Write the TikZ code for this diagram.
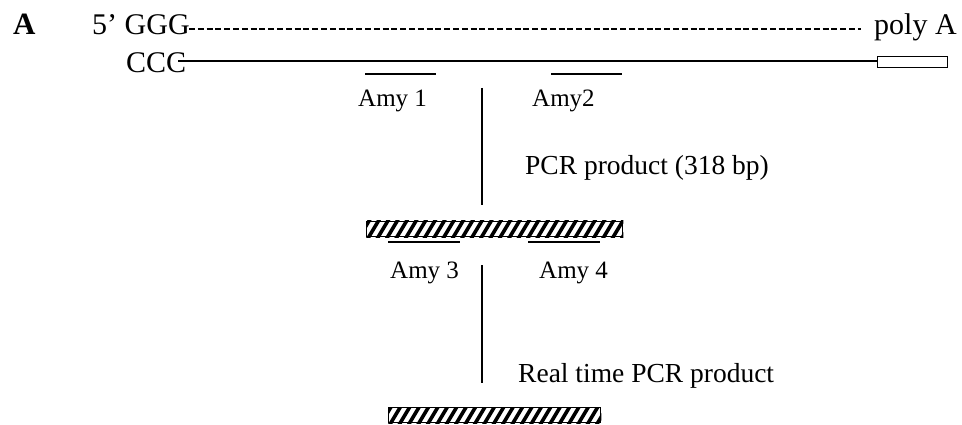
\documentclass[tikz,border=0pt]{standalone}
\usepackage{fontspec}
\setmainfont{Liberation Serif}
\usetikzlibrary{calc}
\begin{document}
\begin{tikzpicture}[x=1pt,y=-1pt,
  txt/.style={inner sep=0pt,anchor=base west,font=\fontsize{27.5}{30}\selectfont},
  toptxt/.style={inner sep=0pt,anchor=base west,font=\fontsize{30}{32}\selectfont},
  amy/.style={inner sep=0pt,anchor=base west,font=\fontsize{25}{27}\selectfont},
  primer/.style={line width=1.8pt},
  stem/.style={line width=1.6pt},
  stripe/.style={line width=3.6pt},
  hatchbox/.style={draw,line width=1.3pt,minimum height=15pt,inner sep=0pt}]
\useasboundingbox (0,0) rectangle (962,425);
% labels
\node[inner sep=0pt,anchor=base west,font=\fontsize{31}{33}\selectfont\bfseries] (lblA) at (13,35) {A};
\node[toptxt] (g5) at (92,35) {5’ GGG};
\node[toptxt] (polyA) at (874,35) {poly A};
\node[toptxt] (ccc) at (126,73) {CCC};
% strands
\coordinate (dashS) at (189,29);
\coordinate (dashE) at (861,29);
\draw[line width=1.3pt,dash pattern=on 6pt off 2.8pt] (dashS) -- (dashE);
\node[draw,line width=1.3pt,minimum width=70pt,minimum height=11pt,inner sep=0pt,anchor=west] (tail) at (877,62) {};
\coordinate (solS) at (178,61);
\draw[line width=1.8pt] (solS) -- (solS -| tail.west);
% primers 1,2
\coordinate (p1a) at (365,74); \coordinate (p1b) at (436,74);
\coordinate (p2a) at (551,74); \coordinate (p2b) at (622,74);
\draw[primer] (p1a) -- (p1b);
\draw[primer] (p2a) -- (p2b);
\node[amy] (amy1) at (358,107) {Amy 1};
\node[amy] (amy2) at (532,107) {Amy2};
% stem 1
\coordinate (s1a) at (482,88); \coordinate (s1b) at (482,205);
\draw[stem] (s1a) -- (s1b);
\node[txt] (pcr) at (525,175) {PCR product (318 bp)};
% hatched bar 1
\node[hatchbox,minimum width=256pt,anchor=north west] (bar1) at (366,221) {};
\begin{scope}
\clip (bar1.south west) rectangle (bar1.north east);
\foreach \i in {0,...,30} {
  \draw[stripe] ($(bar1.south west)+(\i*9.4-8,2)$) -- ++(12,-20);
}
\end{scope}
\node[hatchbox,minimum width=256pt,anchor=north west] at (366,221) {};
% primers 3,4
\coordinate (p3a) at (388,242); \coordinate (p3b) at (460,242);
\coordinate (p4a) at (528,242); \coordinate (p4b) at (600,242);
\draw[primer] (p3a) -- (p3b);
\draw[primer] (p4a) -- (p4b);
\node[amy] (amy3) at (390,278) {Amy 3};
\node[amy] (amy4) at (539,278) {Amy 4};
% stem 2
\coordinate (s2a) at (482,265); \coordinate (s2b) at (482,383);
\draw[stem] (s2a) -- (s2b);
\node[txt] (rt) at (518,382) {Real time PCR product};
% hatched bar 2
\node[hatchbox,minimum width=212pt,anchor=north west] (bar2) at (388,407) {};
\begin{scope}
\clip (bar2.south west) rectangle (bar2.north east);
\foreach \i in {0,...,25} {
  \draw[stripe] ($(bar2.south west)+(\i*9.4-8,2)$) -- ++(12,-20);
}
\end{scope}
\node[hatchbox,minimum width=212pt,anchor=north west] at (388,407) {};
\end{tikzpicture}
\end{document}
